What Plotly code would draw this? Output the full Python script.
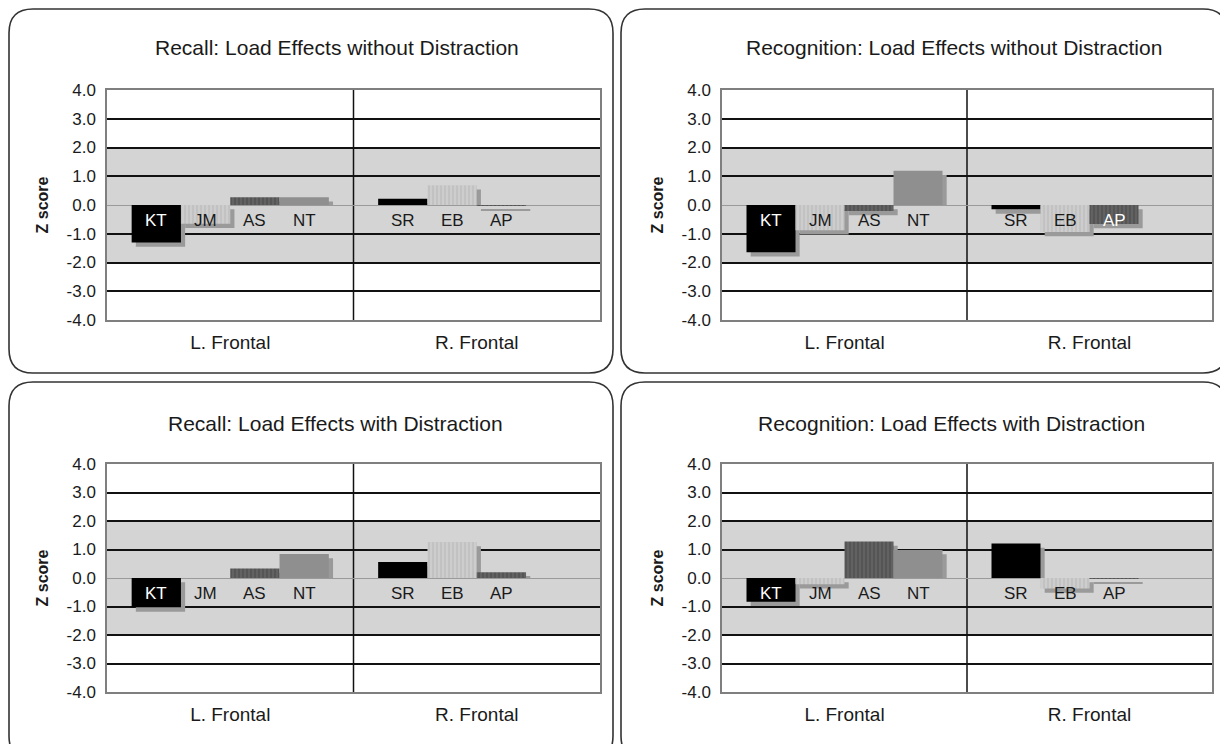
import plotly.graph_objects as go

# ---------------- data ----------------
regions = ["L. Frontal", "R. Frontal"]
left_patients = ["KT", "JM", "AS", "NT"]
right_patients = ["SR", "EB", "AP", None]

titles = [
    "Recall: Load Effects without Distraction",
    "Recognition: Load Effects without Distraction",
    "Recall: Load Effects with Distraction",
    "Recognition: Load Effects with Distraction",
]

# Z scores, slot order (KT/SR, JM/EB, AS/AP, NT/-)
recall_nodist_left = [-1.30, -0.65, 0.27, 0.27]
recall_nodist_right = [0.22, 0.69, -0.03, None]
recog_nodist_left = [-1.64, -0.88, -0.21, 1.19]
recog_nodist_right = [-0.15, -0.94, -0.66, None]
recall_dist_left = [-1.03, 0.0, 0.33, 0.84]
recall_dist_right = [0.56, 1.26, 0.20, None]
recog_dist_left = [-0.83, -0.22, 1.28, 0.98]
recog_dist_right = [1.21, -0.37, -0.03, None]

ytick_vals = [-4, -3, -2, -1, 0, 1, 2, 3, 4]
ytick_text = ["-4.0", "-3.0", "-2.0", "-1.0", "0.0", "1.0", "2.0", "3.0", "4.0"]
y_title = "Z score"

panels = [
    (recall_nodist_left, recall_nodist_right),
    (recog_nodist_left, recog_nodist_right),
    (recall_dist_left, recall_dist_right),
    (recog_dist_left, recog_dist_right),
]

# ---------------- styling ----------------
W, H = 1220, 744
FONT = "Liberation Sans, Arial, Helvetica, sans-serif"
slot_colors = ["#000000", "#cdcdcd", "#555555", "#8f8f8f"]
slot_pattern = ["", "|", "|", ""]
slot_pattern_fg = ["#000000", "#a8a8a8", "#808080", "#8f8f8f"]
shadow_color = "#9a9a9a"
band_color = "#d4d4d4"

# plot areas in pixels: (left, top, right, bottom)
areas = [
    (107, 90, 600, 320),
    (722, 90, 1212, 320),
    (107, 464, 600, 692),
    (722, 464, 1212, 692),
]
# frames in pixels
frames = [
    (9, 9, 613, 373),
    (621, 9, 1227, 373),
    (9, 382, 613, 760),
    (621, 382, 1227, 760),
]
title_pos = [(337, 47), (954, 47), (335, 423), (951, 423)]

SLOT_W = 0.2
SH_DX = 0.017
SH_DY = 0.15


def px(x):
    return x / W


def py(y):
    return 1 - y / H


def rounded_path(x0, y0, x1, y1, r):
    return (
        f"M {px(x0 + r)},{py(y0)} L {px(x1 - r)},{py(y0)} "
        f"Q {px(x1)},{py(y0)} {px(x1)},{py(y0 + r)} "
        f"L {px(x1)},{py(y1 - r)} Q {px(x1)},{py(y1)} {px(x1 - r)},{py(y1)} "
        f"L {px(x0 + r)},{py(y1)} Q {px(x0)},{py(y1)} {px(x0)},{py(y1 - r)} "
        f"L {px(x0)},{py(y0 + r)} Q {px(x0)},{py(y0)} {px(x0 + r)},{py(y0)} Z"
    )


fig = go.Figure()
shapes = []
annotations = []
layout = {}

for k, (lvals, rvals) in enumerate(panels):
    n = k + 1
    xa = "x" if n == 1 else f"x{n}"
    ya = "y" if n == 1 else f"y{n}"
    xkey = "xaxis" if n == 1 else f"xaxis{n}"
    ykey = "yaxis" if n == 1 else f"yaxis{n}"
    l, t, r, b = areas[k]

    # shadows
    for i in range(4):
        vals = [lvals[i], rvals[i]]
        sh_y, sh_base = [], []
        for v in vals:
            if v is None or v == 0:
                sh_y.append(None)
                sh_base.append(0)
            elif v < 0:
                sh_y.append(v)
                sh_base.append(-SH_DY)
            else:
                sh_y.append(max(v - SH_DY, 0))
                sh_base.append(0)
        fig.add_trace(go.Bar(
            x=regions, y=sh_y, base=sh_base,
            offset=-0.4 + SLOT_W * i + SH_DX, width=SLOT_W,
            marker=dict(color=shadow_color, line=dict(width=0)),
            xaxis=xa, yaxis=ya, hoverinfo="skip", showlegend=False,
        ))
    # bars
    for i in range(4):
        vals = [lvals[i], rvals[i]]
        marker = dict(color=slot_colors[i], line=dict(width=0))
        if slot_pattern[i]:
            marker["pattern"] = dict(shape=slot_pattern[i], fgcolor=slot_pattern_fg[i],
                                     bgcolor=slot_colors[i], size=4, solidity=0.3)
        fig.add_trace(go.Bar(
            x=regions, y=vals,
            offset=-0.4 + SLOT_W * i, width=SLOT_W,
            marker=marker, xaxis=xa, yaxis=ya, showlegend=False,
        ))
    # patient labels
    for ri, (names, vals) in enumerate([(left_patients, lvals), (right_patients, rvals)]):
        for i, name in enumerate(names):
            if name is None:
                continue
            v = vals[i]
            dark = i in (0, 2) and v is not None and v < -0.6
            annotations.append(dict(
                x=ri - 0.4 + SLOT_W * i + SLOT_W / 2, y=-0.55, xref=xa, yref=ya,
                text=name, showarrow=False,
                font=dict(family=FONT, size=17, color="#ffffff" if dark else "#1a1a1a"),
            ))

    # band -2..2
    shapes.append(dict(type="rect", xref=f"{xa} domain", yref=ya, x0=0, x1=1, y0=-2, y1=2,
                       fillcolor=band_color, line=dict(width=0), layer="below"))
    # divider between regions
    shapes.append(dict(type="line", xref=xa, yref=f"{ya} domain", x0=0.5, x1=0.5, y0=0, y1=1,
                       line=dict(color="#111111", width=1.5), layer="below"))
    # frame
    fx0, fy0, fx1, fy1 = frames[k]
    shapes.append(dict(type="path", xref="paper", yref="paper",
                       path=rounded_path(fx0, fy0, fx1, fy1, 24),
                       line=dict(color="#333333", width=1.6), layer="above"))
    # title
    tx, ty = title_pos[k]
    annotations.append(dict(
        x=px(tx), y=py(ty), xref="paper", yref="paper",
        text=titles[k], showarrow=False, xanchor="center", yanchor="middle",
        font=dict(family=FONT, size=21, color="#1a1a1a"),
    ))

    layout[xkey] = dict(
        domain=[px(l), px(r)], anchor=ya, range=[-0.5, 1.5],
        showgrid=False, zeroline=False, showline=True, mirror=True,
        linecolor="#7f7f7f", linewidth=1.5, ticks="",
        tickfont=dict(family=FONT, size=19, color="#1a1a1a"),
        ticklabelstandoff=4, fixedrange=True,
    )
    layout[ykey] = dict(
        domain=[py(b), py(t)], anchor=xa, range=[-4, 4],
        tickvals=ytick_vals, ticktext=ytick_text,
        showgrid=True, gridcolor="#111111", gridwidth=1.8,
        zeroline=True, zerolinecolor="#9a9a9a", zerolinewidth=1,
        showline=True, mirror=True, linecolor="#7f7f7f", linewidth=1.5,
        ticks="", tickfont=dict(family=FONT, size=17, color="#1a1a1a"),
        ticklabelstandoff=6,
        title=dict(text=f"<b>{y_title}</b>", font=dict(family=FONT, size=16, color="#1a1a1a"),
                   standoff=14),
        fixedrange=True,
    )

fig.update_layout(
    width=W, height=H, margin=dict(l=0, r=0, t=0, b=0, autoexpand=False),
    paper_bgcolor="#ffffff", plot_bgcolor="#ffffff",
    barmode="overlay", showlegend=False,
    shapes=shapes, annotations=annotations,
    font=dict(family=FONT),
    **layout,
)

fig.write_html("out.html", config={"displayModeBar": False},
               post_script="document.body.style.margin='0';")
